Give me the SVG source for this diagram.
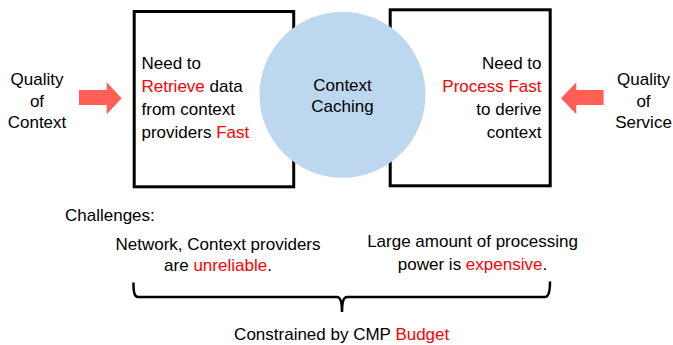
<svg xmlns="http://www.w3.org/2000/svg" width="673" height="345" viewBox="0 0 673 345">
<style>
text{font-family:"Liberation Sans",Arial,sans-serif;font-size:17px;fill:#000}
.r{fill:#FF0000}
.box{fill:#fff;stroke:#000;stroke-width:3}
.arrow{fill:#FF5F55;stroke:none}
.m{text-anchor:middle}
.e{text-anchor:end}
</style>
<rect width="673" height="345" fill="#fff"/>
<g id="quality-of-context">
<text class="m" x="37" y="85">Quality</text>
<text class="m" x="37" y="106.5">of</text>
<text class="m" x="37" y="128">Context</text>
</g>
<g id="retrieve-box">
<rect class="box" x="134.2" y="11.5" width="159.5" height="175.3"/>
<text x="141.5" y="69">Need to</text>
<text x="141.5" y="91.8"><tspan class="r">Retrieve</tspan> data</text>
<text x="141.5" y="114.7">from context</text>
<text x="141.5" y="137.6">providers <tspan class="r">Fast</tspan></text>
</g>
<g id="process-box">
<rect class="box" x="390.2" y="9.8" width="160" height="176"/>
<text class="e" x="541.5" y="69">Need to</text>
<text class="e" x="541.5" y="91.8"><tspan class="r">Process Fast</tspan></text>
<text class="e" x="541.5" y="114.7">to derive</text>
<text class="e" x="541.5" y="137.6">context</text>
</g>
<g id="context-caching">
<circle cx="342.5" cy="94.8" r="83" fill="#BDD7EE"/>
<text class="m" x="342.5" y="91">Context</text>
<text class="m" x="342.5" y="112">Caching</text>
</g>
<g id="quality-of-service">
<text class="m" x="643.5" y="85">Quality</text>
<text class="m" x="643.5" y="106.5">of</text>
<text class="m" x="643.5" y="128">Service</text>
</g>
<g id="challenges">
<text x="65" y="221">Challenges:</text>
<text class="m" x="218" y="250">Network, Context providers</text>
<text class="m" x="218" y="271">are <tspan class="r">unreliable</tspan>.</text>
<text class="m" x="472.5" y="247">Large amount of processing</text>
<text class="m" x="472.5" y="270">power is <tspan class="r">expensive</tspan>.</text>
</g>
<g id="budget">
<text class="m" x="341.7" y="340">Constrained by CMP <tspan class="r">Budget</tspan></text>
</g>
<g id="connectors">
<polygon class="arrow" points="79,90 106.7,90 106.7,82.3 121.7,98.3 106.7,114.3 106.7,105 79,105"/>
<polygon class="arrow" points="603.6,90 576.3,90 576.3,82.3 561,98.3 576.3,114.3 576.3,105 603.6,105"/>
<path d="M133.5,282.5 Q133,297 138,297 H337 Q342,297 342,312 Q342,297 347,297 H545 Q550,297 550,281.5" fill="none" stroke="#000" stroke-width="2.5"/>
</g>
</svg>
